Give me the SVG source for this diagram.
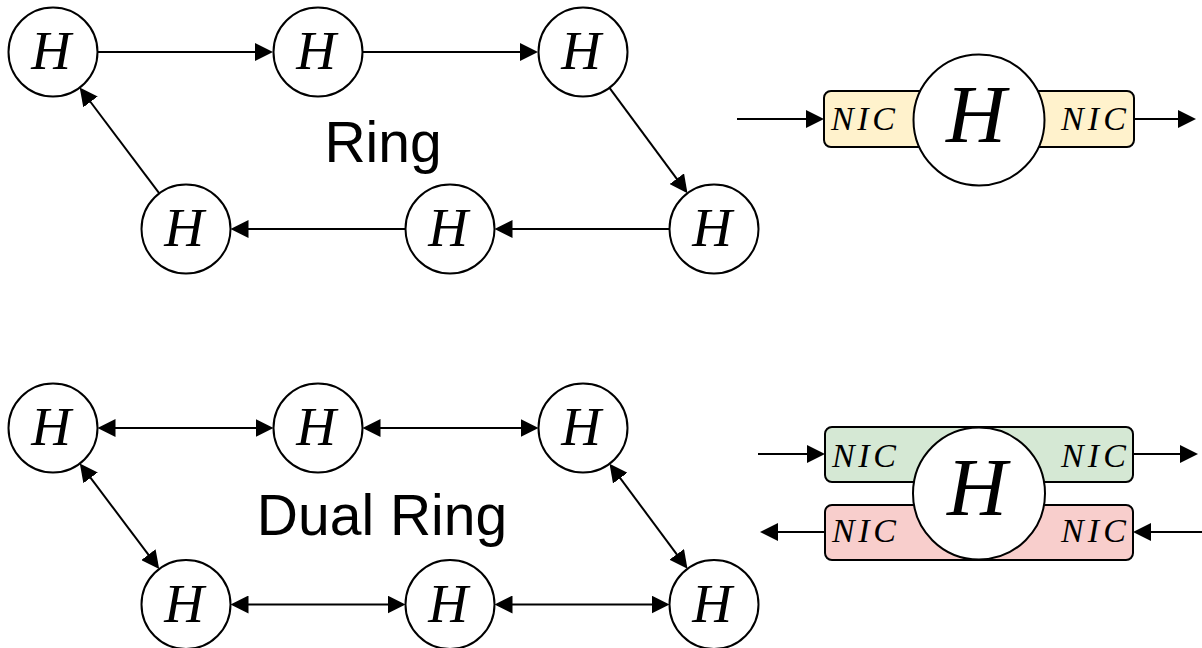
<svg xmlns="http://www.w3.org/2000/svg" width="1202" height="648" viewBox="0 0 1202 648">
<style>
.node circle{fill:#fff;stroke:#000;stroke-width:2}
.h{font-family:"Liberation Serif","Times New Roman",serif;font-style:italic;font-size:55px;text-anchor:middle;fill:#000}
.hb{font-family:"Liberation Serif","Times New Roman",serif;font-style:italic;font-size:83px;text-anchor:middle;fill:#000}
.nic{font-family:"Liberation Serif","Times New Roman",serif;font-style:italic;font-size:34px;fill:#000}
.lbl{font-family:"Liberation Sans",Arial,sans-serif;font-size:57px;text-anchor:middle;fill:#000}
.c{stroke:#000;stroke-width:2;fill:none}
.one{marker-end:url(#ah)}
.two{marker-start:url(#ah);marker-end:url(#ah)}
.box{stroke:#000;stroke-width:2}
</style>
<defs>
<marker id="ah" markerUnits="userSpaceOnUse" markerWidth="18" markerHeight="18" refX="15" refY="9" orient="auto-start-reverse" viewBox="0 0 18 18">
<path d="M0,0 L18,9 L0,18 Z" fill="#000"/>
</marker>
</defs>

<g id="connectors">
<path class="c one" d="M97.5,52 H270"/>
<path class="c one" d="M362.5,52 H535"/>
<path class="c one" d="M609.5,87.8 L685.7,190.8"/>
<path class="c one" d="M669.5,229 H497.5"/>
<path class="c one" d="M405.5,229 H233.5"/>
<path class="c one" d="M159.3,193.4 L81.5,90"/>

<path class="c two" d="M100.5,428 H270.5"/>
<path class="c two" d="M365.5,428 H535.5"/>
<path class="c two" d="M81.6,465.9 L157.4,566.6"/>
<path class="c two" d="M611.3,466.1 L685.7,566.4"/>
<path class="c two" d="M233.5,604.5 H402.5"/>
<path class="c two" d="M497.5,604.5 H666.5"/>

<path class="c one" d="M737,119 H821"/>
<path class="c one" d="M1134,119 H1193"/>
<path class="c one" d="M758,454 H822"/>
<path class="c one" d="M1133,454 H1195"/>
<path class="c one" d="M825,532 H763"/>
<path class="c one" d="M1202,532 H1136"/>
</g>

<g id="ring-n1" class="node"><circle cx="53" cy="52" r="44.5"/><text class="h" x="51" y="69">H</text></g>
<g id="ring-n2" class="node"><circle cx="318" cy="52" r="44.5"/><text class="h" x="316" y="69">H</text></g>
<g id="ring-n3" class="node"><circle cx="583" cy="52" r="44.5"/><text class="h" x="581" y="69">H</text></g>
<g id="ring-n4" class="node"><circle cx="714" cy="229" r="44.5"/><text class="h" x="712" y="246">H</text></g>
<g id="ring-n5" class="node"><circle cx="450" cy="229" r="44.5"/><text class="h" x="448" y="246">H</text></g>
<g id="ring-n6" class="node"><circle cx="186" cy="229" r="44.5"/><text class="h" x="184" y="246">H</text></g>

<g id="dual-n1" class="node"><circle cx="53" cy="428" r="44.5"/><text class="h" x="51" y="445">H</text></g>
<g id="dual-n2" class="node"><circle cx="318" cy="428" r="44.5"/><text class="h" x="316" y="445">H</text></g>
<g id="dual-n3" class="node"><circle cx="583" cy="428" r="44.5"/><text class="h" x="581" y="445">H</text></g>
<g id="dual-n4" class="node"><circle cx="186" cy="604.5" r="44.5"/><text class="h" x="184" y="621.5">H</text></g>
<g id="dual-n5" class="node"><circle cx="450" cy="604.5" r="44.5"/><text class="h" x="448" y="621.5">H</text></g>
<g id="dual-n6" class="node"><circle cx="714" cy="604.5" r="44.5"/><text class="h" x="712" y="621.5">H</text></g>

<text id="label-ring" class="lbl" x="383" y="162">Ring</text>
<text id="label-dual" class="lbl" x="382" y="535">Dual Ring</text>

<g id="host-single" class="node">
<rect class="box" x="824" y="91" width="310" height="56" rx="7" fill="#fff2cc"/>
<circle cx="979" cy="120" r="65.5"/>
<text class="hb" x="976" y="142">H</text>
<text class="nic" x="831" y="130" textLength="64" lengthAdjust="spacing">NIC</text>
<text class="nic" x="1061" y="130" textLength="65" lengthAdjust="spacing">NIC</text>
</g>

<g id="host-dual" class="node">
<rect class="box" x="825" y="427" width="308" height="55" rx="7" fill="#d5e8d4"/>
<rect class="box" x="825" y="505" width="308" height="55" rx="7" fill="#f8cecc"/>
<circle cx="979" cy="493.5" r="66"/>
<text class="hb" x="977" y="515">H</text>
<text class="nic" x="832" y="467" textLength="64" lengthAdjust="spacing">NIC</text>
<text class="nic" x="1061" y="467" textLength="65" lengthAdjust="spacing">NIC</text>
<text class="nic" x="832" y="542" textLength="64" lengthAdjust="spacing">NIC</text>
<text class="nic" x="1061" y="542" textLength="65" lengthAdjust="spacing">NIC</text>
</g>
</svg>
